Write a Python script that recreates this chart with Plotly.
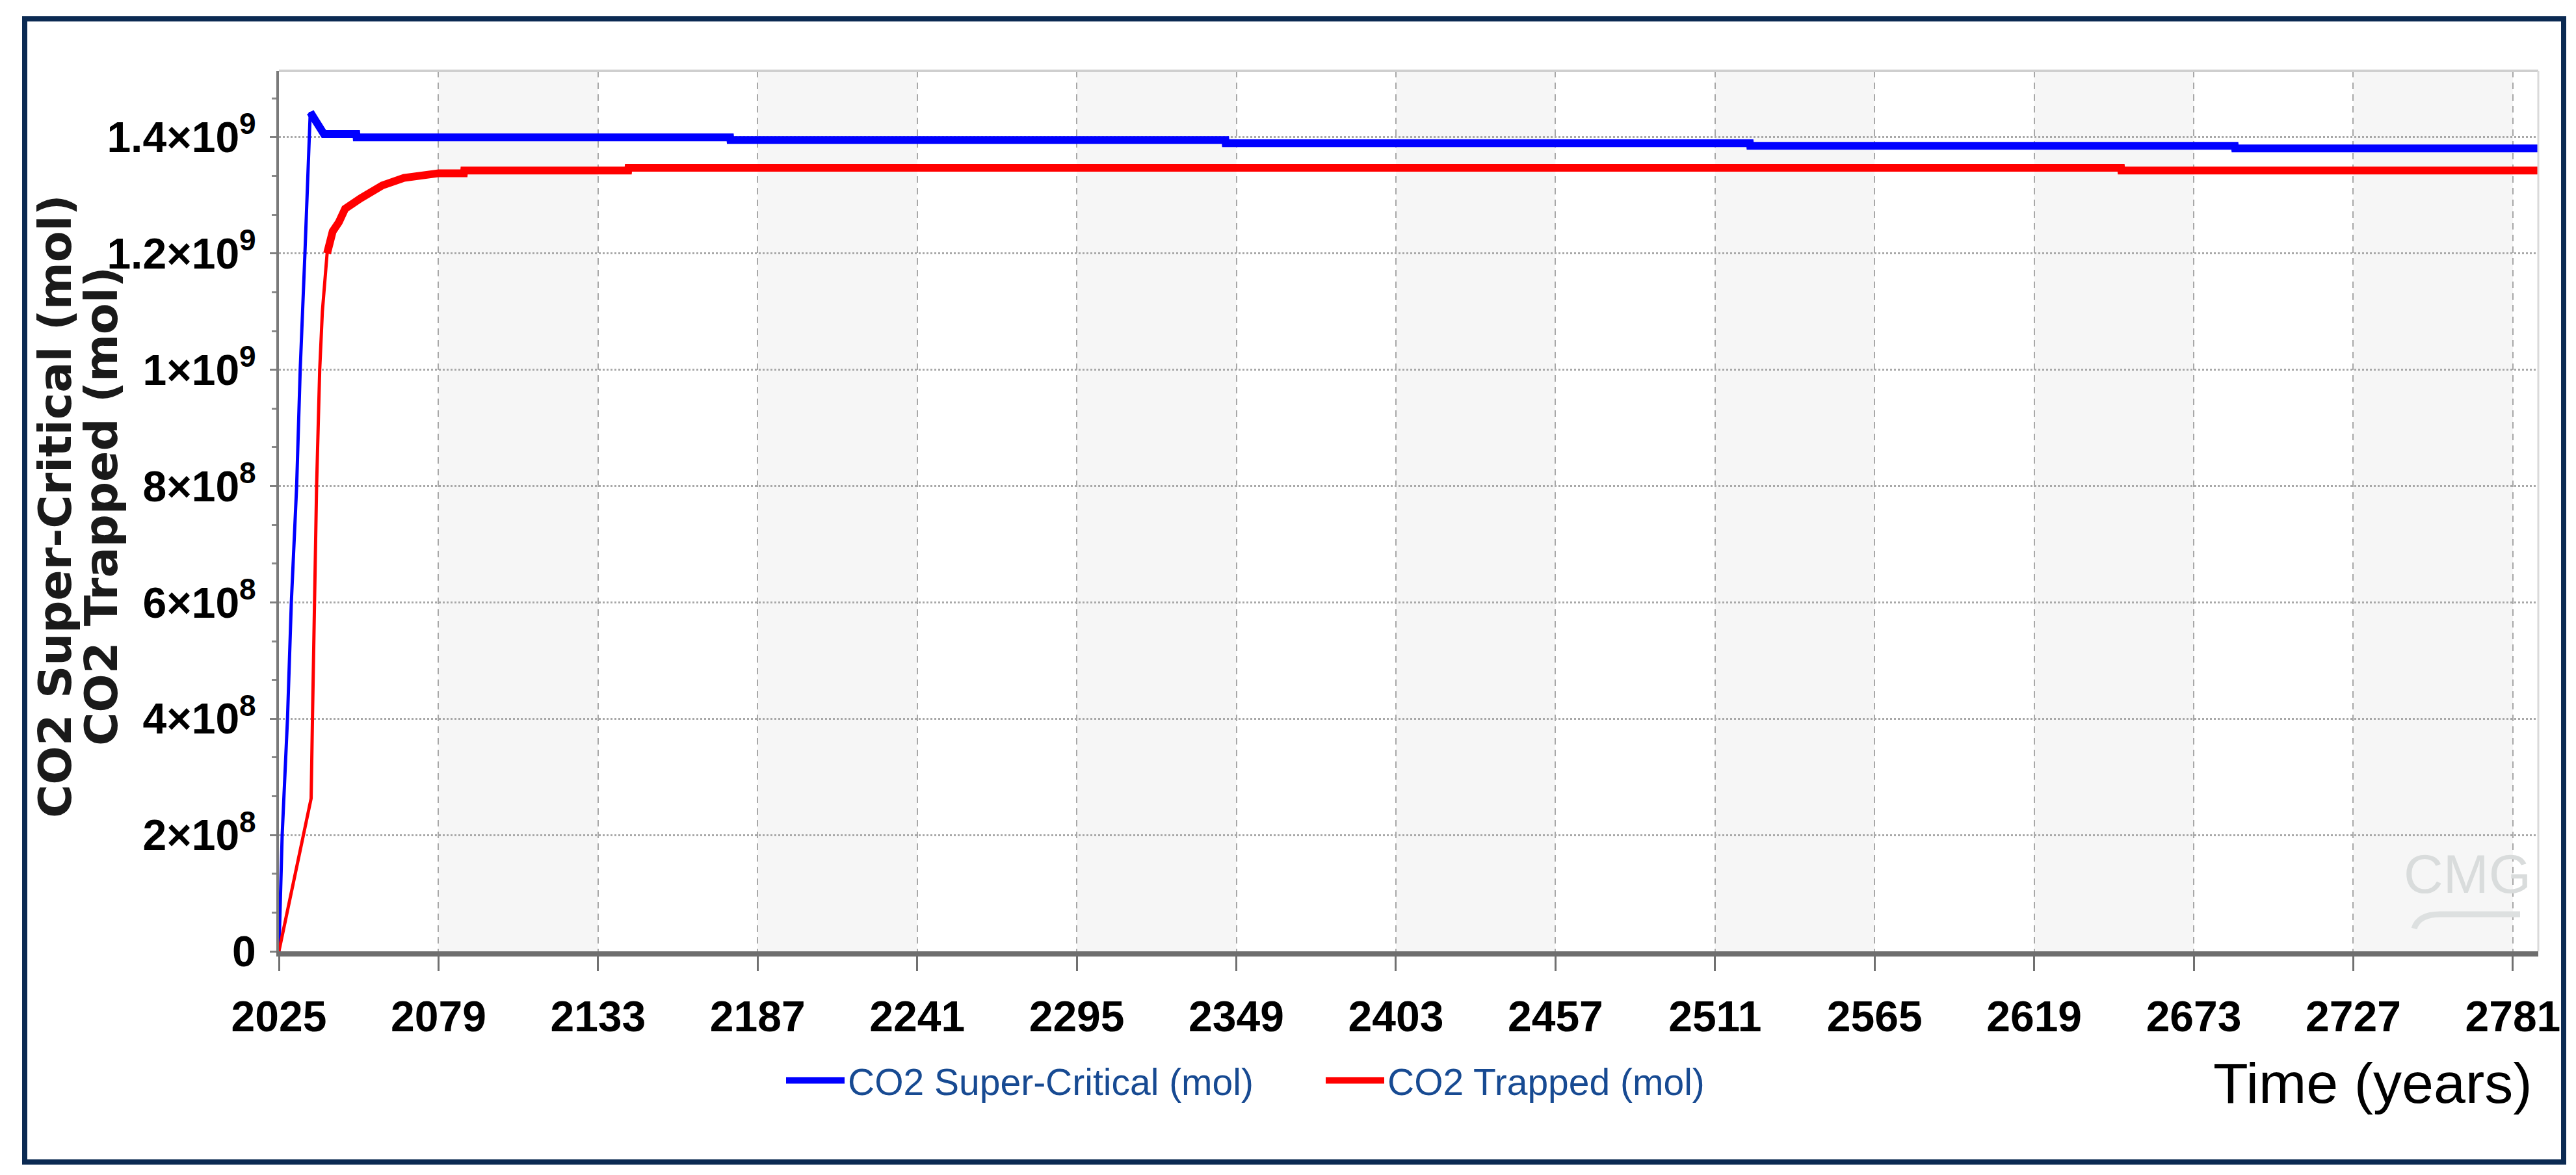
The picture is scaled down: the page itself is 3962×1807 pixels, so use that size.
import plotly.graph_objects as go

# ---------------- data ----------------
years_sc = [2025, 2026.1, 2027.9, 2029.2, 2031.0, 2032.2, 2033.8, 2034.4, 2035.0, 2035.6,
            2040.2, 2051.2, 2051.3, 2177.7, 2177.8, 2345.3, 2345.4, 2522.8, 2522.9,
            2686.9, 2687.0, 2789.6]
co2_supercritical = [0, 2.0e8, 4.0e8, 6.0e8, 8.0e8, 1.0e9, 1.2e9, 1.276e9, 1.358e9, 1.443e9,
                     1.4056e9, 1.4056e9, 1.3997e9, 1.3997e9, 1.3952e9, 1.3952e9, 1.3896e9,
                     1.3896e9, 1.3851e9, 1.3851e9, 1.3807e9, 1.3807e9]

years_tr = [2025, 2035.9, 2036.35, 2037.05, 2037.75, 2038.8, 2039.7, 2041.3, 2043.2, 2045.3,
            2047.4, 2052.7, 2060.0, 2067.3, 2079.1, 2087.6, 2087.7, 2143.2, 2143.3,
            2648.4, 2648.5, 2789.6]
co2_trapped = [0, 2.63e8, 4.0e8, 6.0e8, 8.0e8, 1.0e9, 1.1e9, 1.2e9, 1.238e9, 1.254e9,
               1.277e9, 1.295e9, 1.317e9, 1.330e9, 1.338e9, 1.338e9, 1.3427e9, 1.3427e9,
               1.3475e9, 1.3475e9, 1.3427e9, 1.3427e9]

x_ticks = [2025, 2079, 2133, 2187, 2241, 2295, 2349, 2403, 2457, 2511, 2565, 2619, 2673, 2727, 2781]
y_ticks = [0, 2e8, 4e8, 6e8, 8e8, 1e9, 1.2e9, 1.4e9]
y_ticktext = ["0", "2×10<sup>8</sup>", "4×10<sup>8</sup>", "6×10<sup>8</sup>", "8×10<sup>8</sup>",
              "1×10<sup>9</sup>", "1.2×10<sup>9</sup>", "1.4×10<sup>9</sup>"]

series_names = ["CO2 Super-Critical (mol)", "CO2 Trapped (mol)"]
y_title_lines = ["CO2 Super-Critical (mol)", "CO2 Trapped (mol)"]
x_title = "Time (years)"
watermark = "CMG"

x_range = [2025, 2789.6]
y_range = [0, 1.514e9]

# ---------------- layout geometry ----------------
W, H = 3962, 1807
ML, MR, MT, MB = 421, 66, 101, 352
PW, PH = W - ML - MR, H - MT - MB


def px_x(p):
    return (p - ML) / PW


def px_y(p):
    return (H - MB - p) / PH


ARIAL = "Liberation Sans, Arial, sans-serif"

# the curves are drawn thin on the steep injection rise and thick afterwards
i_sc = co2_supercritical.index(max(co2_supercritical))
i_tr = co2_trapped.index(1.2e9)

fig = go.Figure()
# thick (legend) parts
fig.add_trace(go.Scatter(x=years_sc[i_sc:], y=co2_supercritical[i_sc:], mode="lines",
                         name=series_names[0], line=dict(color="#0000ff", width=12)))
fig.add_trace(go.Scatter(x=years_tr[i_tr:], y=co2_trapped[i_tr:], mode="lines",
                         name=series_names[1], line=dict(color="#ff0000", width=12)))
# thin full curves
fig.add_trace(go.Scatter(x=years_sc, y=co2_supercritical, mode="lines", showlegend=False,
                         name=series_names[0], line=dict(color="#0000ff", width=5)))
fig.add_trace(go.Scatter(x=years_tr, y=co2_trapped, mode="lines", showlegend=False,
                         name=series_names[1], line=dict(color="#ff0000", width=5)))

shapes = []
# alternating shaded vertical bands
bounds = x_ticks + [x_range[1]]
for i in range(1, len(bounds) - 1, 2):
    shapes.append(dict(type="rect", xref="x", yref="paper", x0=bounds[i], x1=bounds[i + 1],
                       y0=0, y1=1, fillcolor="#f6f6f6", line=dict(width=0), layer="below"))
# top and right frame lines
shapes.append(dict(type="line", xref="paper", yref="paper", x0=0, x1=1, y0=1, y1=1,
                   line=dict(color="#cfcfcf", width=4)))
shapes.append(dict(type="line", xref="paper", yref="paper", x0=1, x1=1, y0=0, y1=1,
                   line=dict(color="#dadada", width=3)))
# outer navy border
shapes.append(dict(type="rect", xref="paper", yref="paper",
                   x0=px_x(30), x1=px_x(3935), y0=px_y(1779), y1=px_y(21),
                   line=dict(color="#0b2a52", width=8), fillcolor="rgba(0,0,0,0)"))
# watermark swoosh
shapes.append(dict(type="path", xref="paper", yref="paper",
                   path="M {a},{b} Q {c},{d} {e},{d} L {f},{d}".format(
                       a=px_x(3705), b=px_y(1420), c=px_x(3712), d=px_y(1398),
                       e=px_x(3745), f=px_x(3868)),
                   line=dict(color="#dde0e0", width=9)))

annotations = [
    dict(text=y_title_lines[0], xref="paper", yref="paper", x=px_x(77), y=px_y(771),
         xanchor="center", yanchor="middle", textangle=-90, showarrow=False,
         font=dict(family="DejaVu Sans", size=70, color="#1a1a1a", weight="bold")),
    dict(text=y_title_lines[1], xref="paper", yref="paper", x=px_x(148), y=px_y(771),
         xanchor="center", yanchor="middle", textangle=-90, showarrow=False,
         font=dict(family="DejaVu Sans", size=70, color="#1a1a1a", weight="bold")),
    dict(text=x_title, xref="paper", yref="paper", x=px_x(3889), y=px_y(1657),
         xanchor="right", yanchor="middle", showarrow=False,
         font=dict(family=ARIAL, size=88, color="#000000")),
    dict(text=watermark, xref="paper", yref="paper", x=px_x(3787), y=px_y(1336),
         xanchor="center", yanchor="middle", showarrow=False,
         font=dict(family=ARIAL, size=84, color="#d9dcdc")),
]

fig.update_layout(
    width=W, height=H, autosize=False,
    margin=dict(l=ML, r=MR, t=MT, b=MB, autoexpand=False),
    paper_bgcolor="white", plot_bgcolor="white",
    showlegend=True,
    legend=dict(orientation="h", x=px_x(1196), y=px_y(1654), xanchor="left", yanchor="middle",
                xref="paper", yref="paper",
                font=dict(family=ARIAL, size=57, color="#174a92"),
                itemwidth=90, entrywidth=725, entrywidthmode="pixels",
                bgcolor="rgba(0,0,0,0)", traceorder="normal"),
    shapes=shapes,
    annotations=annotations,
    xaxis=dict(range=x_range, tickmode="array", tickvals=x_ticks,
               ticktext=[str(v) for v in x_ticks],
               showline=True, linecolor="#6e6e6e", linewidth=8,
               ticks="outside", ticklen=22, tickwidth=3, tickcolor="#707070",
               showgrid=True, gridcolor="#a8a8a8", gridwidth=2, griddash="10px,8px",
               zeroline=False, ticklabelstandoff=14,
               tickfont=dict(family=ARIAL, size=66, color="#000000", weight="bold")),
    yaxis=dict(range=y_range, tickmode="array", tickvals=y_ticks, ticktext=y_ticktext,
               showline=True, linecolor="#7a7a7a", linewidth=4,
               ticks="outside", ticklen=10, tickwidth=3, tickcolor="#808080",
               showgrid=True, gridcolor="#a8a8a8", gridwidth=3, griddash="dot",
               zeroline=False, ticklabelstandoff=8,
               minor=dict(dtick=2e8 / 3, tick0=0, ticks="outside", ticklen=7,
                          tickwidth=3, tickcolor="#8a8a8a", showgrid=False),
               tickfont=dict(family=ARIAL, size=66, color="#000000", weight="bold")),
)

fig.write_html("out.html")
